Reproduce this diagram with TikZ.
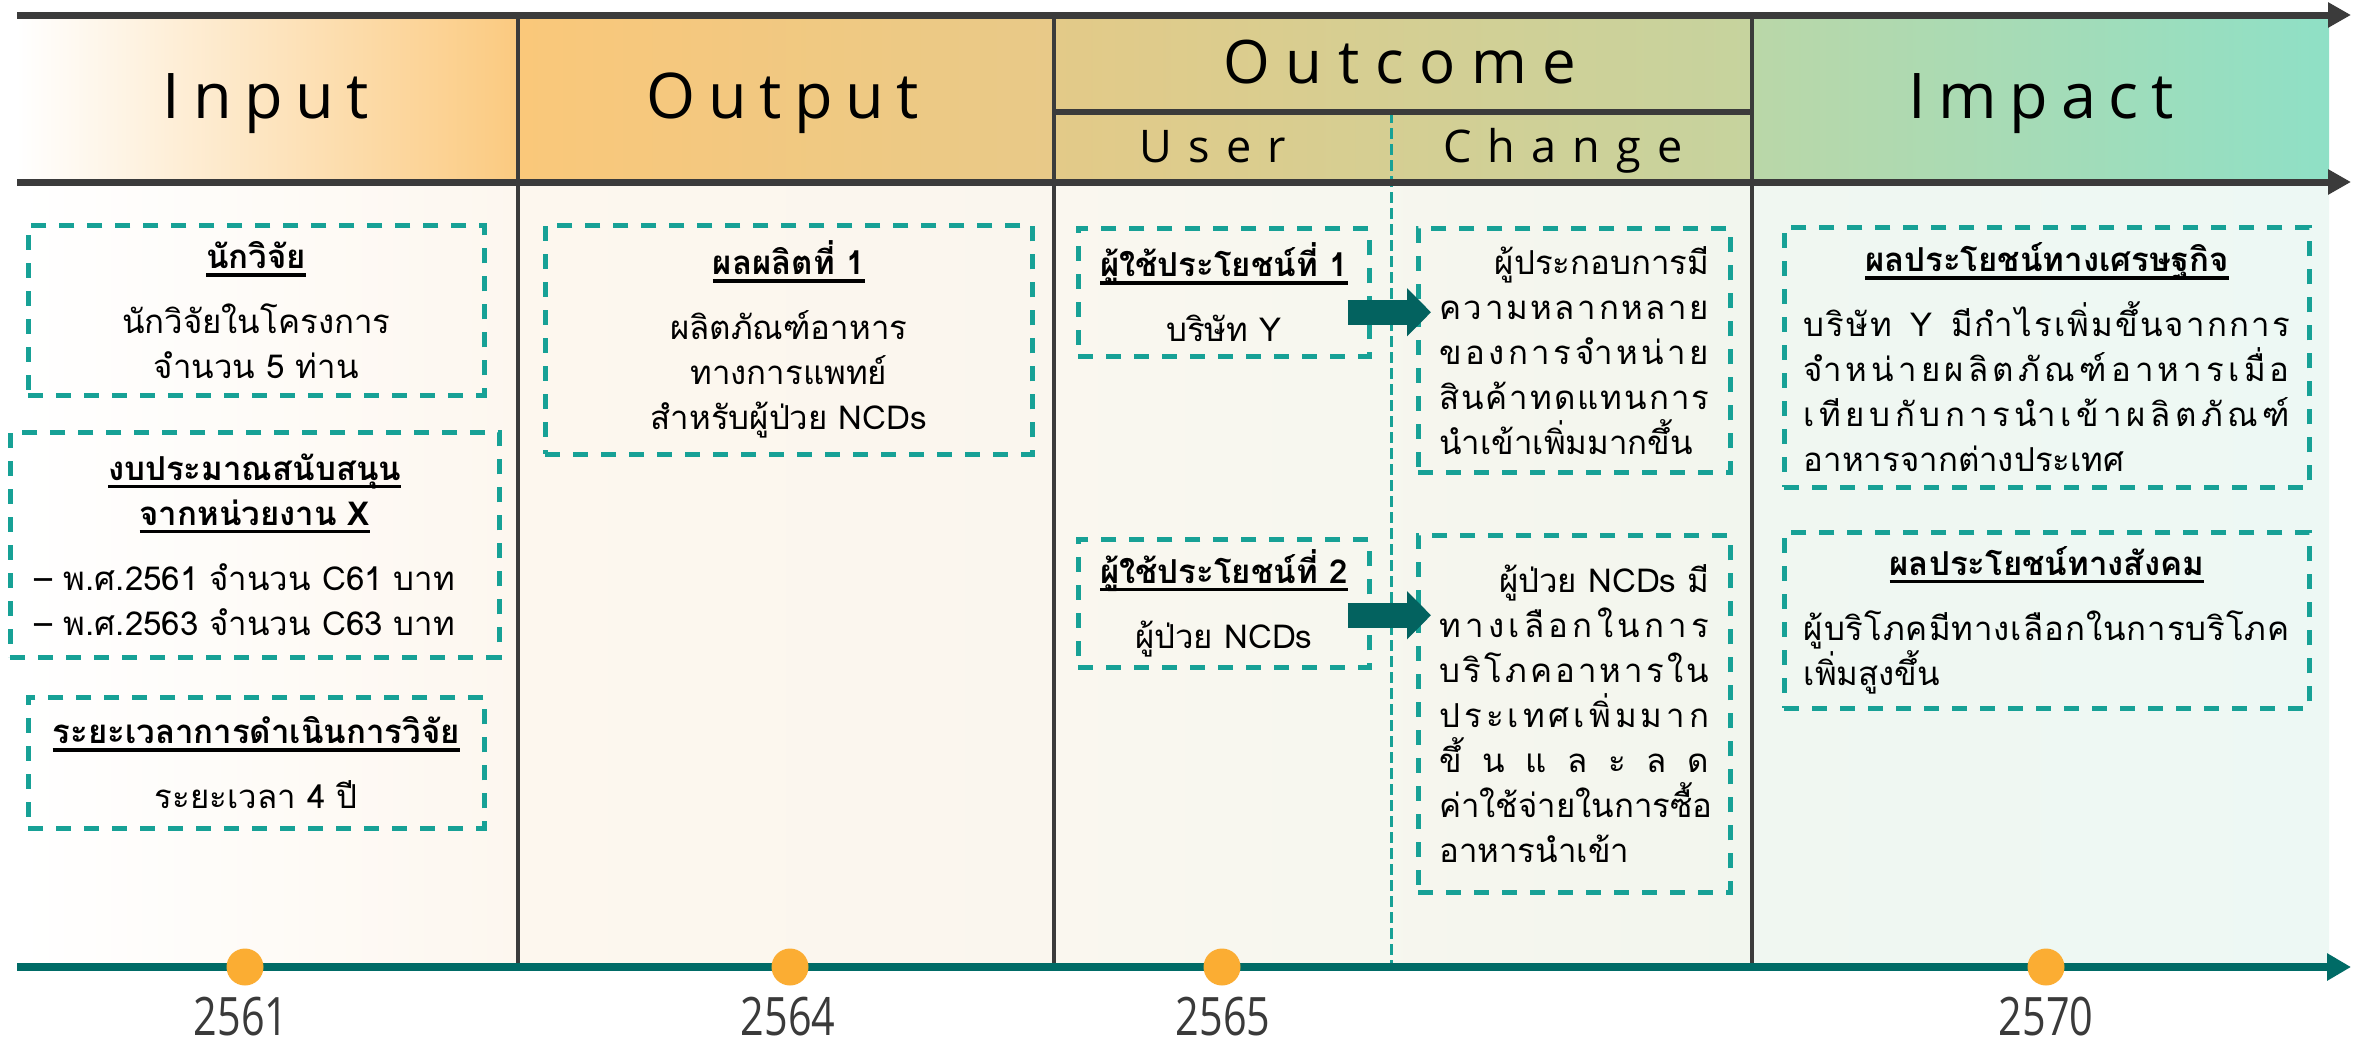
\documentclass[tikz,border=0pt]{standalone}
\usepackage{fontspec}
\usetikzlibrary{arrows.meta,calc}
\newfontfamily\thaifont[Script=Thai]{Loma}
\newfontfamily\hdrfont{Open Sans}
\newfontfamily\yrfont[FakeStretch=0.78]{Open Sans}
\definecolor{lineg}{HTML}{3B3B3B}
\definecolor{tealdash}{HTML}{17A196}
\definecolor{arrc}{HTML}{03625F}
\definecolor{tlc}{HTML}{006B66}
\definecolor{dotc}{HTML}{FBAD33}
\definecolor{yrc}{HTML}{3A3A3A}
\definecolor{hA}{HTML}{FFFFFF}
\definecolor{hB}{HTML}{FBCA80}
\definecolor{hC}{HTML}{FAC87A}
\definecolor{hD}{HTML}{E8C988}
\definecolor{hE}{HTML}{E3CA88}
\definecolor{hF}{HTML}{C6D39E}
\definecolor{hG}{HTML}{BAD7A8}
\definecolor{hH}{HTML}{8FE0C6}
\definecolor{bA}{HTML}{FFFFFF}
\definecolor{bB}{HTML}{FDF7EF}
\definecolor{bC}{HTML}{FDF7EE}
\definecolor{bD}{HTML}{FAF6EE}
\definecolor{bE}{HTML}{FAF7EF}
\definecolor{bF}{HTML}{F2F6EE}
\definecolor{bG}{HTML}{F0F7F1}
\definecolor{bH}{HTML}{EDF8F4}
\newcommand\tul[1]{\setbox0=\hbox{#1}\rlap{\rule[-8pt]{\wd0}{3.5pt}}\box0}
\newcommand\jl[2]{\makebox[#1][s]{#2}}
\newcommand\gp{\hfill}
\tikzset{
  dbox/.style={draw=tealdash, line width=4.5pt, dash pattern=on 15pt off 13pt,
    inner sep=0pt, anchor=north west, align=center,
    font=\thaifont\fontsize{33}{45}\selectfont},
  hdr/.style={anchor=base, inner sep=0pt, text=black},
  hbig/.style={hdr, font=\hdrfont\fontsize{63}{70}\selectfont\addfontfeature{LetterSpace=20}},
  hmid/.style={hdr, font=\hdrfont\fontsize{60}{70}\selectfont\addfontfeature{LetterSpace=26}},
  hsml/.style={hdr, font=\hdrfont\fontsize{45}{50}\selectfont\addfontfeature{LetterSpace=36}},
  axisline/.style={draw=lineg, line width=7pt, -{Triangle[length=23pt,width=24pt]}},
  divline/.style={draw=lineg, line width=4.5pt},
  tdash/.style={draw=tealdash, line width=3pt, dash pattern=on 11pt off 5pt},
  barrow/.style={draw=arrc, line width=25pt, -{Triangle[length=24pt,width=47pt]}},
  dotn/.style={circle, fill=dotc, minimum size=37pt, inner sep=0pt},
  yrn/.style={anchor=base, inner sep=0pt, text=yrc, font=\yrfont\fontsize{53}{56}\selectfont}
}
\begin{document}
\begin{tikzpicture}[x=1pt,y=-1pt]
\useasboundingbox (0,0) rectangle (2362,1050);
\fill[white] (0,0) rectangle (2362,1050);
% body backgrounds
\shade[left color=bA, right color=bB] (17,182) rectangle (518,967);
\shade[left color=bC, right color=bD] (518,182) rectangle (1054,967);
\shade[left color=bE, right color=bF] (1054,182) rectangle (1752,967);
\shade[left color=bG, right color=bH] (1752,182) rectangle (2329,967);
% header backgrounds
\shade[left color=hA, right color=hB] (17,15) rectangle (518,182);
\shade[left color=hC, right color=hD] (518,15) rectangle (1054,182);
\shade[left color=hE, right color=hF] (1054,15) rectangle (1752,182);
\shade[left color=hG, right color=hH] (1752,15) rectangle (2329,182);
% dividers
\draw[divline] (518,15) -- (518,967);
\draw[divline] (1054,15) -- (1054,967);
\draw[divline] (1752,15) -- (1752,967);
\draw[tdash] (1391,112) -- (1391,967);
\draw[draw=lineg, line width=6pt] (1054,112) -- (1752,112);
% axis lines
\coordinate (top0) at (17,15);
\coordinate (top1) at (2351,15);
\coordinate (mid0) at (17,182);
\coordinate (mid1) at (2351,182);
\coordinate (tl0) at (17,967);
\coordinate (tl1) at (2351,967);
\draw[axisline] (top0) -- (top1);
\draw[axisline] (mid0) -- (mid1);
\draw[draw=tlc, line width=8pt, -{Triangle[length=24pt,width=26pt]}] (tl0) -- (tl1);
% header texts
\node[hbig] (hInput) at (266,118) {Input};
\node[hbig] (hOutput) at (783,118) {Output};
\node[hmid] (hOutcome) at (1400,83) {Outcome};
\node[hsml] (hUser) at (1213,162) {User};
\node[hsml] (hChange) at (1563,162) {Change};
\node[hbig] (hImpact) at (2041,118) {Impact};
% input boxes
\node[dbox, minimum width=456pt, minimum height=170pt] (in1) at (26,223)
 {\tul{\bfseries นักวิจัย}\\[20pt] นักวิจัยในโครงการ\\ จำนวน 5 ท่าน};
\node[dbox, minimum width=489pt, minimum height=225pt] (in2) at (8,430)
 {\tul{\bfseries งบประมาณสนับสนุน}\\ \tul{\bfseries จากหน่วยงาน X}\\[20pt]
  \makebox[440pt][l]{– พ.ศ.2561 จำนวน C61 บาท}\\
  \makebox[440pt][l]{– พ.ศ.2563 จำนวน C63 บาท}};
\node[dbox, minimum width=456pt, minimum height=131pt] (in3) at (26,695)
 {\tul{\bfseries ระยะเวลาการดำเนินการวิจัย}\\[20pt] ระยะเวลา 4 ปี};
% output box
\node[dbox, minimum width=487pt, minimum height=229pt] (out1) at (543,223)
 {\tul{\bfseries ผลผลิตที่ 1}\\[20pt] ผลิตภัณฑ์อาหาร\\ ทางการแพทย์\\ สำหรับผู้ป่วย NCDs};
% user boxes
\node[dbox, minimum width=291pt, minimum height=128pt] (u1) at (1076,226)
 {\tul{\bfseries ผู้ใช้ประโยชน์ที่ 1}\\[20pt] บริษัท Y};
\node[dbox, minimum width=291pt, minimum height=128pt] (u2) at (1076,537)
 {\tul{\bfseries ผู้ใช้ประโยชน์ที่ 2}\\[20pt] ผู้ป่วย NCDs};
% change boxes
\node[dbox, minimum width=312pt, minimum height=244pt] (c1) at (1416,226)
 {\makebox[270pt][r]{ผู้ประกอบการมี}\\
  \jl{270pt}{ค\gp ว\gp า\gp ม\gp ห\gp ล\gp า\gp ก\gp ห\gp ล\gp า\gp ย}\\
  \jl{270pt}{ข\gp อ\gp ง\gp ก\gp า\gp ร\gp จำ\gp ห\gp น่\gp า\gp ย}\\
  \jl{270pt}{สิ\gp น\gp ค้\gp า\gp ท\gp ด\gp แ\gp ท\gp น\gp ก\gp า\gp ร}\\
  \makebox[270pt][l]{นำเข้าเพิ่มมากขึ้น}};
\node[dbox, minimum width=312pt, minimum height=357pt] (c2) at (1416,533)
 {\makebox[270pt][r]{ผู้ป่วย NCDs มี}\\
  \jl{270pt}{ท\gp า\gp ง\gp เ\gp ลื\gp อ\gp ก\gp ใ\gp น\gp ก\gp า\gp ร}\\
  \jl{270pt}{บ\gp ริ\gp โ\gp ภ\gp ค\gp อ\gp า\gp ห\gp า\gp ร\gp ใ\gp น}\\
  \jl{270pt}{ป\gp ร\gp ะ\gp เ\gp ท\gp ศ\gp เ\gp พิ่\gp ม\gp ม\gp า\gp ก}\\
  \jl{270pt}{ขึ้\gp น\gp แ\gp ล\gp ะ\gp ล\gp ด}\\
  \jl{270pt}{ค่\gp า\gp ใ\gp ช้\gp จ่\gp า\gp ย\gp ใ\gp น\gp ก\gp า\gp ร\gp ซื้\gp อ}\\
  \makebox[270pt][l]{อาหารนำเข้า}};
% impact boxes
\node[dbox, minimum width=525pt, minimum height=260pt] (i1) at (1782,225)
 {\tul{\bfseries ผลประโยชน์ทางเศรษฐกิจ}\\[20pt]
  \jl{486pt}{บ\gp ริ\gp ษั\gp ท\gp\hspace{14pt}\gp Y\gp\hspace{14pt}\gp มี\gp กำ\gp ไ\gp ร\gp เ\gp พิ่\gp ม\gp ขึ้\gp น\gp จ\gp า\gp ก\gp ก\gp า\gp ร}\\
  \jl{486pt}{จำ\gp ห\gp น่\gp า\gp ย\gp ผ\gp ลิ\gp ต\gp ภั\gp ณ\gp ฑ์\gp อ\gp า\gp ห\gp า\gp ร\gp เ\gp มื่\gp อ}\\
  \jl{486pt}{เ\gp ที\gp ย\gp บ\gp กั\gp บ\gp ก\gp า\gp ร\gp นำ\gp เ\gp ข้\gp า\gp ผ\gp ลิ\gp ต\gp ภั\gp ณ\gp ฑ์}\\
  \makebox[486pt][l]{อาหารจากต่างประเทศ}};
\node[dbox, minimum width=525pt, minimum height=176pt] (i2) at (1782,530)
 {\tul{\bfseries ผลประโยชน์ทางสังคม}\\[20pt]
  \jl{486pt}{ผู้\gp บ\gp ริ\gp โ\gp ภ\gp ค\gp มี\gp ท\gp า\gp ง\gp เ\gp ลื\gp อ\gp ก\gp ใ\gp น\gp ก\gp า\gp ร\gp บ\gp ริ\gp โ\gp ภ\gp ค}\\
  \makebox[486pt][l]{เพิ่มสูงขึ้น}};
% block arrows
\draw[barrow, shorten >=-15pt] ($(u1.east)+(-24,20)$) coordinate (a1s) -- (a1s -| c1.west);
\draw[barrow, shorten >=-15pt] ($(u2.east)+(-24,12)$) coordinate (a2s) -- (a2s -| c2.west);
% timeline dots and years
\node[dotn] (d1) at (245,967) {};
\node[dotn] (d2) at (790,967) {};
\node[dotn] (d3) at (1222,967) {};
\node[dotn] (d4) at (2046,967) {};
\node[yrn] (y1) at (241,1035) {2561};
\node[yrn] (y2) at (788,1035) {2564};
\node[yrn] (y3) at (1223,1035) {2565};
\node[yrn] (y4) at (2046,1035) {2570};
\end{tikzpicture}
\end{document}
